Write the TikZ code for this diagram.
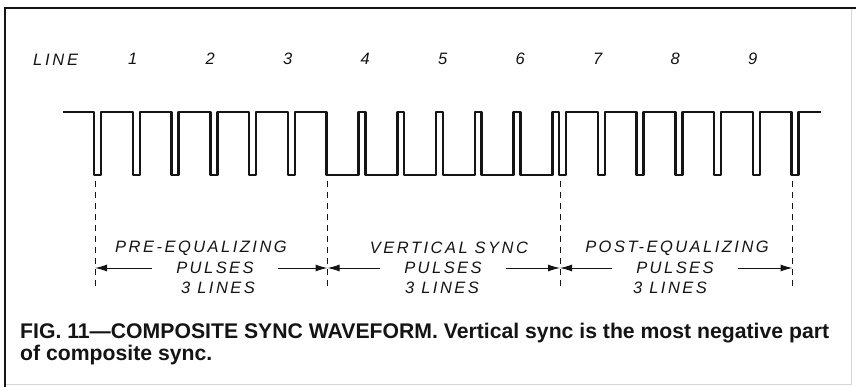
\documentclass[tikz,border=0pt]{standalone}
\usepackage{fontspec}
\setmainfont{Liberation Sans}
\newfontfamily\handfont[LetterSpace=15]{Liberation Sans}
\usetikzlibrary{arrows.meta}
\definecolor{inkblack}{HTML}{141414}
\definecolor{edgegray}{HTML}{D6D6D6}

\begin{document}
\begin{tikzpicture}[x=1pt, y=-1pt,
  wave/.style={inkblack, line width=2.5pt, line join=round},
  guide/.style={inkblack, line width=0.8pt, dash pattern=on 6pt off 5pt},
  dim/.style={-{Latex[length=12pt,width=7pt]}, inkblack, line width=1pt},
  hand/.style={inkblack, inner sep=0pt, font=\handfont\itshape\fontsize{16.5}{16.5}\selectfont},
  midlbl/.style={hand, inner xsep=24pt},
  capline/.style={inkblack, inner sep=0pt, anchor=base west, font=\bfseries\fontsize{21.2}{24}\selectfont}
]
  \useasboundingbox (0,0) rectangle (856,387);
  \def\hl{38.75}

  % frame
  \draw[edgegray, line width=1pt] (851,8) -- (851,384) -- (5,384);
  \draw[inkblack, line width=2.4pt] (5,387) -- (5,8) -- (856,8);

  % line numbers
  \node[hand, anchor=west] (linehdr) at (33,60) {L\,I\,N\,E};
  \foreach \n in {1,...,9}
    \node[hand] (ln\n) at ({94+(2*\n-1)*\hl},59) {\n};

  % composite sync
  \draw[wave] (63,112)
    \foreach \k in {0,...,5}{ -- ({94+\k*\hl},112) -- ++(0,63) -- ++(7,0) -- ++(0,-63) }
    \foreach \k in {6,...,11}{ -- ({94+\k*\hl},112) -- ++(0,63) -- ++(32,0) -- ++(0,-63) }
    \foreach \k in {12,...,18}{ -- ({94+\k*\hl},112) -- ++(0,63) -- ++(7,0) -- ++(0,-63) }
    -- (821,112);

  % interval marks
  \foreach \i/\k in {0/0,1/6,2/12,3/18}{
    \coordinate (g\i) at ({95+\k*\hl},181);
    \draw[guide] (g\i) -- ++(0,108);
  }

  \node[hand] (pre) at (201,248) {PRE-EQUALIZING};
  \node[midlbl] (prepul) at (215,268) {PULSES};
  \node[hand] (prelin) at (218,288) {3 LINES};
  \node[hand] (vert) at (449,248) {VERTICAL SYNC};
  \node[midlbl] (vertpul) at (443,268) {PULSES};
  \node[hand] (vertlin) at (442,288) {3 LINES};
  \node[hand] (post) at (677,248) {POST-EQUALIZING};
  \node[midlbl] (postpul) at (675,268) {PULSES};
  \node[hand] (postlin) at (670,288) {3 LINES};

  \draw[dim] (prepul.west) -- (g0 |- prepul);
  \draw[dim] (prepul.east) -- (g1 |- prepul);
  \draw[dim] (vertpul.west) -- (g1 |- vertpul);
  \draw[dim] (vertpul.east) -- (g2 |- vertpul);
  \draw[dim] (postpul.west) -- (g2 |- postpul);
  \draw[dim] (postpul.east) -- (g3 |- postpul);

  % caption
  \node[capline] (cap1) at (20,338) {FIG. 11---COMPOSITE SYNC WAVEFORM. Vertical sync is the most negative part};
  \node[capline] (cap2) at (20,360) {of composite sync.};
\end{tikzpicture}
\end{document}
